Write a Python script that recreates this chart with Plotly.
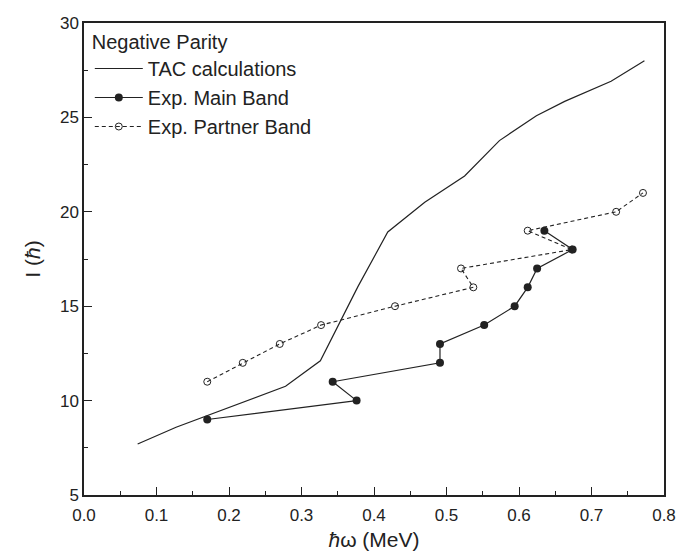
import plotly.graph_objects as go

# TAC calculations
tac_x = [0.074, 0.127, 0.278, 0.326, 0.378, 0.419, 0.47, 0.525, 0.573, 0.624, 0.663, 0.727, 0.773]
tac_y = [7.70, 8.59, 10.76, 12.11, 16.05, 18.93, 20.5, 21.9, 23.77, 25.09, 25.85, 26.91, 28.0]

# Exp. Main Band
main_x = [0.170, 0.376, 0.343, 0.491, 0.491, 0.552, 0.594, 0.612, 0.625, 0.674, 0.635]
main_y = [9, 10, 11, 12, 13, 14, 15, 16, 17, 18, 19]

# Exp. Partner Band
partner_x = [0.170, 0.219, 0.270, 0.327, 0.429, 0.537, 0.520, 0.673, 0.612, 0.734, 0.771]
partner_y = [11, 12, 13, 14, 15, 16, 17, 18, 19, 20, 21]

x_ticks = [0.0, 0.1, 0.2, 0.3, 0.4, 0.5, 0.6, 0.7, 0.8]
y_ticks = [5, 10, 15, 20, 25, 30]

FONT = "Liberation Sans, Arial, sans-serif"
INK = "#222222"

fig = go.Figure()
fig.add_trace(go.Scatter(x=tac_x, y=tac_y, mode="lines", name="TAC calculations",
                         line=dict(color=INK, width=1.2)))
fig.add_trace(go.Scatter(x=main_x, y=main_y, mode="lines+markers", name="Exp. Main Band",
                         line=dict(color=INK, width=1.2),
                         marker=dict(symbol="circle", size=8, color=INK)))
fig.add_trace(go.Scatter(x=partner_x, y=partner_y, mode="lines+markers", name="Exp. Partner Band",
                         line=dict(color=INK, width=1.1, dash="4px,3px"),
                         marker=dict(symbol="circle-open", size=7, color=INK, line=dict(width=1))))

axis_common = dict(showgrid=False, zeroline=False, showline=True, linecolor=INK, linewidth=1.5,
                   mirror=True, ticks="inside", tickcolor=INK, tickwidth=1.2, ticklen=8,
                   automargin=False,
                   tickfont=dict(family=FONT, size=17, color=INK))

fig.update_xaxes(range=[0, 0.8], tickvals=x_ticks, ticktext=[f"{v:.1f}" for v in x_ticks],
                 ticklabelstandoff=4,
                 minor=dict(ticks="inside", dtick=0.05, ticklen=4, tickcolor=INK, tickwidth=1.2),
                 title=dict(text="<i>ħ</i>ω (MeV)", font=dict(family=FONT, size=21, color=INK), standoff=8),
                 **axis_common)
fig.update_yaxes(range=[5, 30], tickvals=y_ticks,
                 minor=dict(ticks="inside", dtick=2.5, ticklen=4, tickcolor=INK, tickwidth=1.2),
                 title=dict(text="I (<i>ħ</i>)", font=dict(family=FONT, size=21, color=INK), standoff=14),
                 **axis_common)

fig.update_layout(
    width=691, height=555,
    margin=dict(l=76, r=35, t=15, b=68),
    paper_bgcolor="white", plot_bgcolor="white",
    showlegend=True,
    legend=dict(x=0.01, y=1.0, xanchor="left", yanchor="top",
                bgcolor="rgba(0,0,0,0)", itemwidth=48,
                title=dict(text="Negative Parity", font=dict(family=FONT, size=20, color=INK)),
                font=dict(family=FONT, size=20, color=INK), tracegroupgap=0),
)

fig.write_html("out.html")
